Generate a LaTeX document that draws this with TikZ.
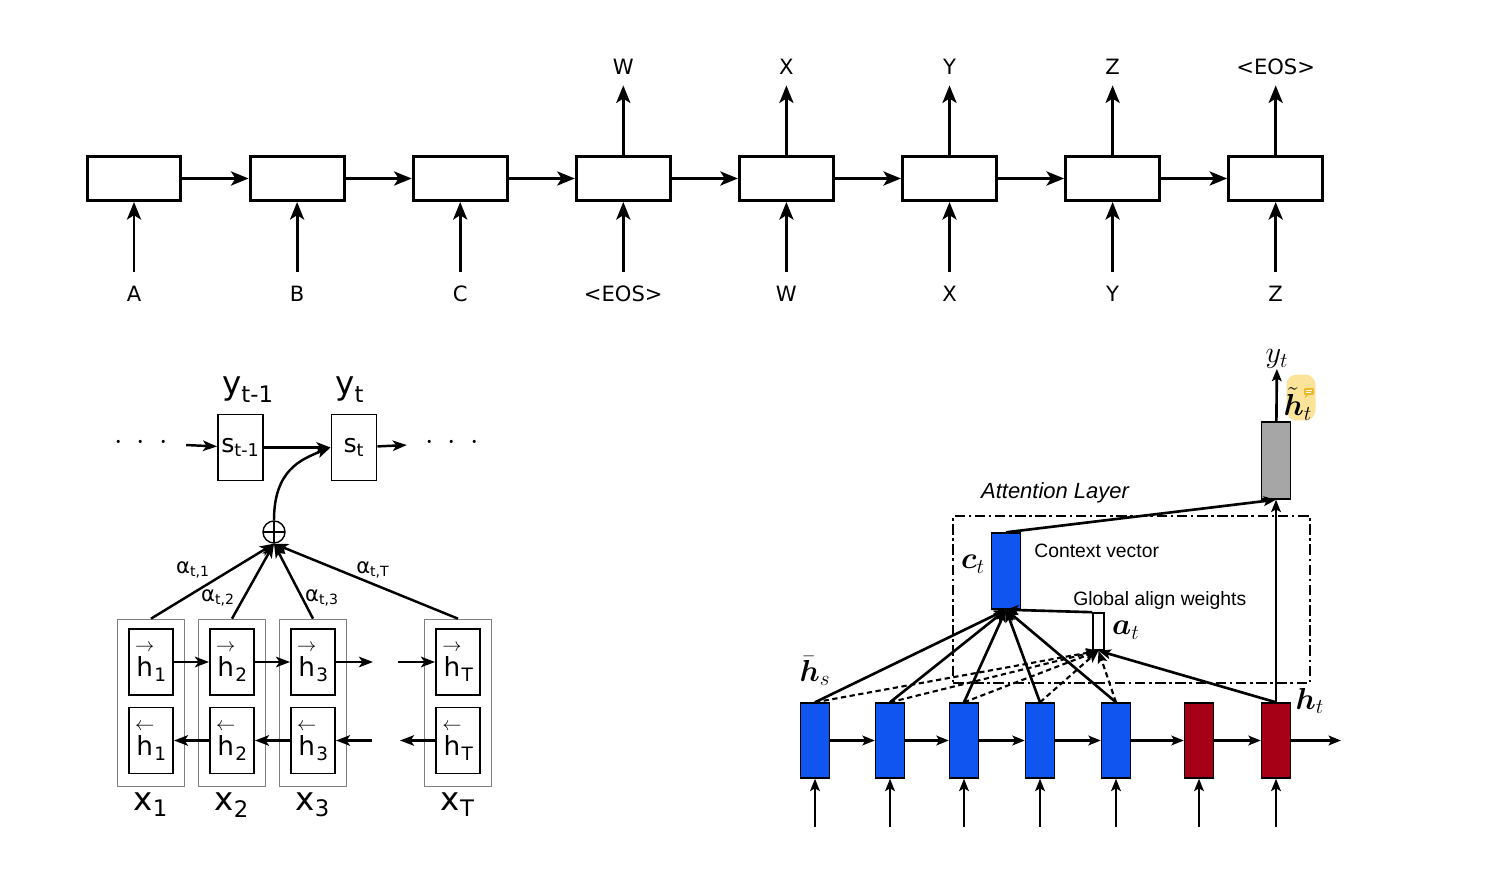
\documentclass[tikz,border=0pt]{standalone}
\usepackage{amsmath}
\usepackage{bm}
\usepackage{fontspec}
\setsansfont{DejaVu Sans}
\newfontfamily\helvfont{Liberation Sans}
\usetikzlibrary{positioning,arrows.meta}
\definecolor{EncBlue}{HTML}{1055F0}
\definecolor{DecRed}{HTML}{A50016}
\definecolor{OutGray}{HTML}{A6A6A6}
\definecolor{NoteYellow}{HTML}{FBE49A}
\definecolor{BubbleGold}{HTML}{EDB92A}

\begin{document}
\begin{tikzpicture}[x=0.02cm,y=-0.02cm,
  cell/.style={draw,line width=1.7pt,minimum width=1.88cm,minimum height=0.88cm,inner sep=0pt},
  toklbl/.style={font=\sffamily\fontsize{12}{14}\selectfont,inner sep=0pt,text height=8.5pt,text depth=0pt},
  seqarrow/.style={line width=1.7pt,-{Stealth[length=10pt,width=8pt,inset=2.5pt]}},
  hbox/.style={draw,line width=1.1pt,minimum width=0.88cm,minimum height=1.32cm,inner sep=0pt,font=\sffamily\fontsize{15}{17}\selectfont},
  sbox/.style={draw,line width=1.1pt,minimum width=0.9cm,minimum height=1.32cm,inner sep=0pt,font=\sffamily\fontsize{14.4}{16}\selectfont},
  colbox/.style={draw=gray,line width=0.4pt,minimum width=1.34cm,minimum height=3.34cm},
  bigsym/.style={font=\sffamily\fontsize{18.5}{20}\selectfont,inner sep=0pt},
  wlbl/.style={font=\sffamily\fontsize{12}{14}\selectfont,inner sep=0pt},
  rnnarrow/.style={line width=1.4pt,-{Stealth[length=8pt,width=6pt,inset=2pt]}},
  encbox/.style={draw,line width=0.8pt,fill=EncBlue,minimum width=0.58cm,minimum height=1.5cm,inner sep=0pt},
  decbox/.style={encbox,fill=DecRed},
  attarrow/.style={line width=1.5pt,-{Stealth[length=7pt,width=5.5pt,inset=1.5pt]}},
  mlbl/.style={font=\fontsize{17.28}{19}\selectfont,inner sep=0pt},
  note/.style={font=\helvfont\fontsize{11}{13}\selectfont,inner sep=0pt}]
  \path[use as bounding box,fill=white] (0,0) rectangle (1492,874);

  % sequence to sequence
  \foreach \i/\inp in {1/A,2/B,3/C,4/{<EOS>},5/W,6/X,7/Y,8/Z} {
    \node[cell] (c\i) at ({134+163.1*(\i-1)},178.5) {};
    \node[toklbl] (in\i) at ({134+163.1*(\i-1)},294) {\inp};
    \draw[seqarrow,shorten <=8pt] (in\i) -- (c\i);
  }
  \foreach \i/\outp in {4/W,5/X,6/Y,7/Z,8/{<EOS>}} {
    \node[toklbl] (out\i) at ({134+163.1*(\i-1)},67) {\outp};
    \draw[seqarrow,shorten >=6pt] (c\i) -- (out\i);
  }
  \foreach \i [evaluate=\i as \j using int(\i+1)] in {1,...,7}
    \draw[seqarrow] (c\i) -- (c\j);

  % bidirectional encoder with attention
  \node[sbox] (sprev) at (240.5,447.5) {$\text{s}_{\text{t-1}}$};
  \node[sbox] (scur) at (354,447.5) {$\text{s}_{\text{t}}$};
  \node[bigsym] (yprev) at (248,390) {$\text{y}_{\text{t-1}}$};
  \node[bigsym] (ycur) at (350,390) {$\text{y}_{\text{t}}$};
  \node[font=\fontsize{17.28}{19}\selectfont] (ldots) at (141,443) {$\cdot$\hspace{8pt}$\cdot$\hspace{8pt}$\cdot$};
  \node[font=\fontsize{17.28}{19}\selectfont] (rdots) at (452,443) {$\cdot$\hspace{8pt}$\cdot$\hspace{8pt}$\cdot$};
  \draw[rnnarrow,shorten <=7pt] (ldots) -- (sprev);
  \draw[rnnarrow] (sprev) -- (scur);
  \draw[rnnarrow,shorten >=7pt] (scur) -- (rdots);
  \node[circle,draw,line width=0.8pt,minimum size=0.44cm,inner sep=0pt,
    path picture={\draw[line width=0.8pt] (path picture bounding box.north) -- (path picture bounding box.south)
      (path picture bounding box.west) -- (path picture bounding box.east);}] (plus) at (274,532) {};
  \draw[rnnarrow] (plus.north) .. controls +(0,-50) and +(-30,12) .. (scur.west);

  \foreach \k/\cx in {1/151,2/232,3/313,T/458} {
    \node[colbox] (col\k) at (\cx,702.5) {};
    \node[hbox] (hf\k) at (\cx,662) {$\overset{\rightarrow}{\text{h}}_{\text{\k}}$};
    \node[hbox] (hb\k) at (\cx,740.5) {$\overset{\leftarrow}{\text{h}}_{\text{\k}}$};
    \node[bigsym] (x\k) at (\cx,805) {$\text{x}_{\text{\k}}$};
    \draw[rnnarrow] (col\k.north) -- (plus.south);
  }
  \coordinate (fgapL) at (373,662);
  \coordinate (fgapR) at (398,662);
  \coordinate (bgapR) at (400,740.5);
  \coordinate (bgapL) at (372,740.5);
  \draw[rnnarrow] (hf1) -- (hf2);
  \draw[rnnarrow] (hf2) -- (hf3);
  \draw[rnnarrow] (hf3) -- (fgapL);
  \draw[rnnarrow] (fgapR) -- (hfT);
  \draw[rnnarrow] (hbT) -- (bgapR);
  \draw[rnnarrow] (bgapL) -- (hb3);
  \draw[rnnarrow] (hb3) -- (hb2);
  \draw[rnnarrow] (hb2) -- (hb1);
  \node[wlbl] (a1) at (193,570) {$\text{α}_{\text{t,1}}$};
  \node[wlbl] (a2) at (218,598) {$\text{α}_{\text{t,2}}$};
  \node[wlbl] (a3) at (322,598) {$\text{α}_{\text{t,3}}$};
  \node[wlbl] (aT) at (373,570) {$\text{α}_{\text{t,T}}$};

  % global attention
  \node[draw,line width=1.4pt,dash pattern=on 6pt off 2pt on 1.5pt off 2pt,minimum width=7.14cm,minimum height=3.34cm] (attn) at (1131.5,599.5) {};
  \node[font=\helvfont\itshape\fontsize{12.5}{14}\selectfont] (attnlbl) at (1055,493) {Attention Layer};
  \foreach \k/\cx in {1/815,2/890,3/964,4/1040,5/1116}
    \node[encbox] (e\k) at (\cx,740.5) {};
  \node[decbox] (d1) at (1199,740.5) {};
  \node[decbox] (d2) at (1276,740.5) {};
  \node[encbox,fill=OutGray,minimum height=1.54cm] (hout) at (1276,460.5) {};
  \node[encbox,minimum height=1.52cm] (ctx) at (1006,571) {};
  \node[draw,line width=0.9pt,fill=white,minimum width=0.22cm,minimum height=0.74cm,inner sep=0pt] (align) at (1098.5,631.5) {};
  \foreach \n/\cx in {e1/815,e2/890,e3/964,e4/1040,e5/1116,d1/1199,d2/1276} {
    \coordinate (\n in) at (\cx,827);
    \draw[attarrow] (\n in) -- (\n);
  }
  \coordinate (rend) at (1341,740.5);
  \draw[attarrow] (e1) -- (e2);
  \draw[attarrow] (e2) -- (e3);
  \draw[attarrow] (e3) -- (e4);
  \draw[attarrow] (e4) -- (e5);
  \draw[attarrow] (e5) -- (d1);
  \draw[attarrow] (d1) -- (d2);
  \draw[attarrow] (d2) -- (rend);
  \foreach \k in {1,...,5} {
    \draw[attarrow] (e\k.north) -- (ctx.south);
    \draw[attarrow,line width=1.2pt,dash pattern=on 3pt off 2pt] (e\k.north) -- (align.south);
  }
  \draw[attarrow] (d2.north) -- (align.south);
  \draw[attarrow] (align.north west) -- (ctx.south);
  \draw[attarrow] (d2.north) -- (hout.south);
  \draw[attarrow] (ctx.north) -- (hout.south);
  \node[mlbl] (ylbl) at (1277,359) {$y_t$};
  \draw[attarrow] (hout) -- (ylbl);
  \node[fill=NoteYellow,rounded corners=6pt,minimum width=0.58cm,minimum height=0.92cm] (hl) at (1301,397.5) {};
  \node[mlbl] (htilde) at (1298,404) {$\tilde{\bm{h}}_t$};
  \fill[BubbleGold,rounded corners=0.6pt] (1304,388) rectangle (1314,395);
  \fill[BubbleGold] (1306,394) -- (1305,398) -- (1309,394) -- cycle;
  \draw[white,line width=0.4pt] (1306,390.5) -- (1312,390.5) (1306,392.5) -- (1311,392.5);
  \node[mlbl] (hslbl) at (815,671) {$\bar{\bm{h}}_s$};
  \node[mlbl] (ctlbl) at (973,564) {$\bm{c}_t$};
  \node[mlbl] (atlbl) at (1126,630) {$\bm{a}_t$};
  \node[mlbl] (htlbl) at (1310,701) {$\bm{h}_t$};
  \node[note,anchor=west] (ctxlbl) at (1034,551) {Context vector};
  \node[note,anchor=west] (alignlbl) at (1073,601) {Global align weights};
\end{tikzpicture}
\end{document}
